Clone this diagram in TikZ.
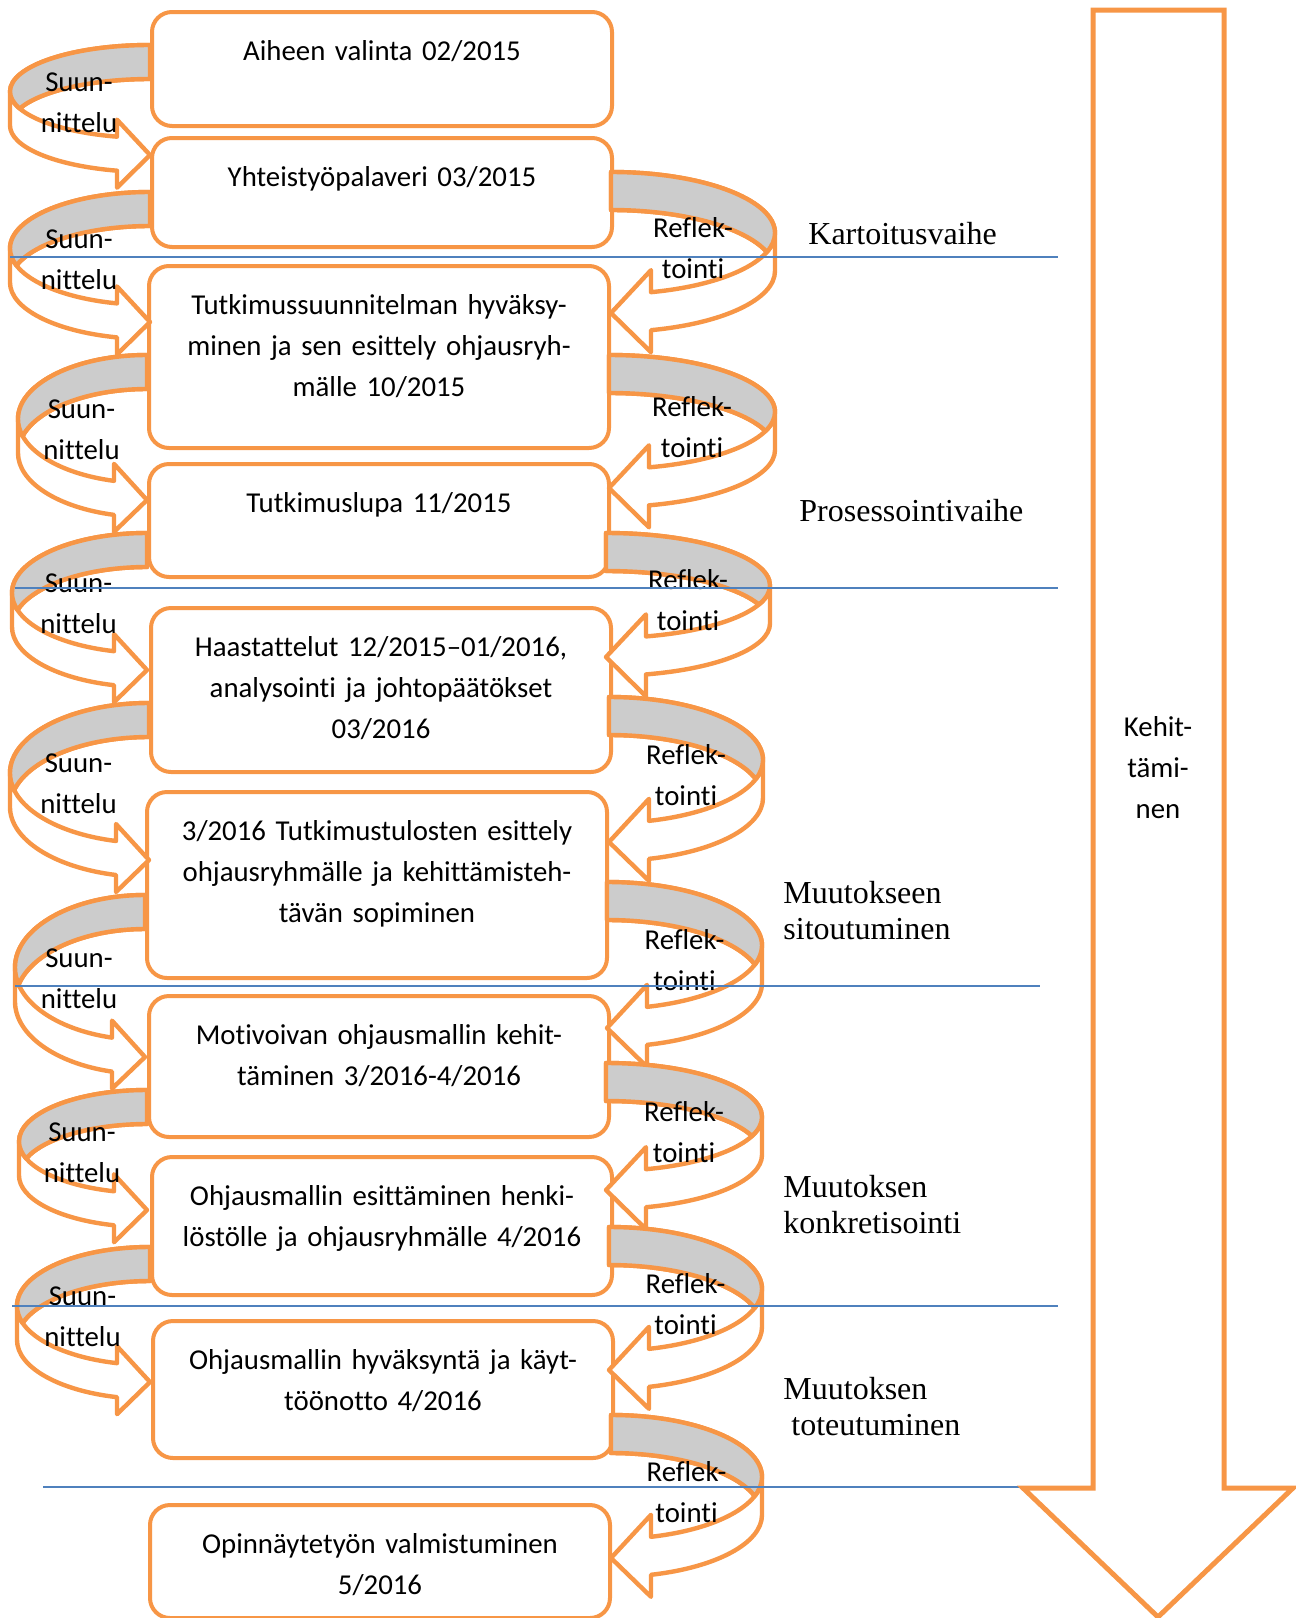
\documentclass[tikz,border=0pt]{standalone}
\usepackage{fontspec}
\setmainfont{Carlito}[Ligatures=NoCommon]
\newfontfamily\phasefont{Liberation Serif}

\definecolor{stageorange}{HTML}{F79646}
\definecolor{stageblue}{HTML}{4F81BD}
\definecolor{backgray}{HTML}{CCCCCC}

% curved arrow on the left: label name, box edge x, top y, tip y, outer x
\newcommand\suunloop[5]{%
  \pgfmathsetmacro\loopw{#2-#5}
  \pgfmathsetmacro\looph{(#4-#3-17)/2}
  \pgfmathsetmacro\loopc{#3+\looph}
  \pgfmathsetmacro\loopang{acos(33/\loopw)}
  \pgfmathsetmacro\loopdel{asin(17/\looph)}
  \pgfmathsetmacro\loopbase{\loopc+\looph*sin(\loopang)}
  \pgfmathsetmacro\loopxr{\loopw/2}
  \pgfmathsetmacro\loopyr{\looph/2}
  \filldraw[loopshape] (#5,\loopc)
    arc[start angle=180, end angle=180+\loopang, x radius=\loopxr pt, y radius=\loopyr pt]
    -- (#2-33,\loopbase-17) -- (#2,#4) -- (#2-33,\loopbase+51) -- (#2-33,\loopbase+34)
    arc[start angle=180+\loopang, end angle=180, x radius=\loopxr pt, y radius=\loopyr pt]
    -- (#5,\loopc)
    arc[start angle=180, end angle=90, x radius=\loopxr pt, y radius=\loopyr pt]
    -- (#2,#3+34)
    arc[start angle=90, end angle=180-\loopdel, x radius=\loopxr pt, y radius=\loopyr pt]
    -- cycle;
  \filldraw[loopshape, fill=backgray] (#2,#3)
    arc[start angle=90, end angle=180, x radius=\loopxr pt, y radius=\loopyr pt]
    arc[start angle=180, end angle=180+\loopdel, x radius=\loopxr pt, y radius=\loopyr pt]
    arc[start angle=180-\loopdel, end angle=90, x radius=\loopxr pt, y radius=\loopyr pt]
    -- cycle;
  \node[looplabel] (#1) at ({(#2+#5)/2-1},\loopc+11) {Suun-\\nittelu};
}

% curved arrow on the right: label name, box edge x, top y, tip y, outer x
\newcommand\refloop[5]{%
  \pgfmathsetmacro\loopw{#5-#2}
  \pgfmathsetmacro\looph{(#4-#3-19)/2}
  \pgfmathsetmacro\loopc{#3+\looph}
  \pgfmathsetmacro\loopang{acos(40/\loopw)}
  \pgfmathsetmacro\loopdel{asin(19/\looph)}
  \pgfmathsetmacro\loopbase{\loopc+\looph*sin(\loopang)}
  \pgfmathsetmacro\loopxr{\loopw/2}
  \pgfmathsetmacro\loopyr{\looph/2}
  \filldraw[loopshape] (#5,\loopc)
    arc[start angle=0, end angle=-\loopang, x radius=\loopxr pt, y radius=\loopyr pt]
    -- (#2+40,\loopbase-22) -- (#2,#4) -- (#2+40,\loopbase+60) -- (#2+40,\loopbase+38)
    arc[start angle=-\loopang, end angle=0, x radius=\loopxr pt, y radius=\loopyr pt]
    -- (#5,\loopc)
    arc[start angle=0, end angle=90, x radius=\loopxr pt, y radius=\loopyr pt]
    -- (#2,#3+38)
    arc[start angle=90, end angle=\loopdel, x radius=\loopxr pt, y radius=\loopyr pt]
    -- cycle;
  \filldraw[loopshape, fill=backgray] (#2,#3)
    arc[start angle=90, end angle=0, x radius=\loopxr pt, y radius=\loopyr pt]
    arc[start angle=0, end angle=-\loopdel, x radius=\loopxr pt, y radius=\loopyr pt]
    arc[start angle=\loopdel, end angle=90, x radius=\loopxr pt, y radius=\loopyr pt]
    -- cycle;
  \node[looplabel] (#1) at ({(#2+#5)/2},\loopc+15) {Reflek-\\tointi};
}

\begin{document}
\begin{tikzpicture}[
x=0.5pt, y=-0.5pt,
stage/.style={draw=stageorange, line width=2pt, rounded corners=10pt, fill=white,
  anchor=north west, align=center, text width=216pt, inner xsep=7pt, inner ysep=0pt,
  minimum width=230pt, text height=24pt, font=\fontsize{14.4}{20.5}\selectfont},
loopshape/.style={draw=stageorange, line width=2.2pt, line join=round, fill=white},
looplabel/.style={align=center, inner sep=0pt, font=\fontsize{14.4}{20.5}\selectfont},
phase/.style={anchor=west, align=left, inner sep=0pt, font=\phasefont\fontsize{16}{18}\selectfont},
divider/.style={draw=stageblue, line width=0.9pt}
]
\useasboundingbox (0,0) rectangle (1296,1618);

\node[stage, text depth=33pt] (b1) at (150,10) {Aiheen valinta 02/2015};
\node[stage, text depth=30.5pt] (b2) at (150,136) {Yhteistyöpalaveri 03/2015};
\node[stage, text depth=67pt] (b3) at (147,264) {Tutkimussuunnitelman hyväksy-\\minen ja sen esittely ohjausryh-\\mälle 10/2015};
\node[stage, text depth=32.5pt] (b4) at (147,462) {Tutkimuslupa 11/2015};
\node[stage, text depth=58pt] (b5) at (149,606) {Haastattelut 12/2015–01/2016,\\analysointi ja johtopäätökset\\03/2016};
\node[stage, text depth=69pt] (b6) at (145,790) {3/2016 Tutkimustulosten esittely\\ohjausryhmälle ja kehittämisteh-\\tävän sopiminen};
\node[stage, text depth=46.5pt] (b7) at (147,994) {Motivoivan ohjausmallin kehit-\\täminen 3/2016-4/2016};
\node[stage, text depth=45pt] (b8) at (150,1155) {Ohjausmallin esittäminen henki-\\löstölle ja ohjausryhmälle 4/2016};
\node[stage, text depth=44.5pt] (b9) at (151,1319) {Ohjausmallin hyväksyntä ja käyt-\\töönotto 4/2016};
\node[stage, text depth=32.5pt] (b10) at (148,1503) {Opinnäytetyön valmistuminen\\5/2016};

\suunloop{s1}{150}{45}{155}{10}
\suunloop{s2}{150}{192}{322}{10}
\suunloop{s3}{147}{355}{500}{18}
\suunloop{s4}{147}{533}{670}{12}
\suunloop{s5}{149}{703}{860}{10}
\suunloop{s6}{145}{895}{1057}{15}
\suunloop{s7}{147}{1090}{1210}{19}
\suunloop{s8}{150}{1247}{1382}{17}

\refloop{r2}{611}{172}{313}{775}
\refloop{r3}{609}{355}{488}{775}
\refloop{r4}{606}{533}{657}{770}
\refloop{r5}{609}{697}{842}{763}
\refloop{r6}{607}{882}{1028}{762}
\refloop{r7}{606}{1063}{1190}{762}
\refloop{r8}{609}{1227}{1370}{762}
\refloop{r9}{611}{1415}{1558}{762}

\draw[divider] (10,257) -- (1058,257);
\draw[divider] (15,588) -- (1058,588);
\draw[divider] (15,986) -- (1040,986);
\draw[divider] (12,1306) -- (1058,1306);
\draw[divider] (43,1487) -- (1068,1487);

\node[phase] (kartoitus) at (808,234) {Kartoitusvaihe};
\node[phase] (prosessointi) at (799,511) {Prosessointivaihe};
\node[phase] (sitoutuminen) at (783,911) {Muutokseen\\sitoutuminen};
\node[phase] (konkretisointi) at (783,1205) {Muutoksen\\konkretisointi};
\node[phase] (toteutuminen) at (783,1407) {Muutoksen\\\hspace{4pt}toteutuminen};

\draw[line width=2.5pt, draw=stageorange, fill=white]
  (1093,10) -- (1224,10) -- (1224,1488) -- (1293,1488) -- (1158,1617)
  -- (1023,1488) -- (1093,1488) -- cycle;
\node[looplabel] (kehitys) at (1158,768) {Kehit-\\tämi-\\nen};
\end{tikzpicture}
\end{document}
